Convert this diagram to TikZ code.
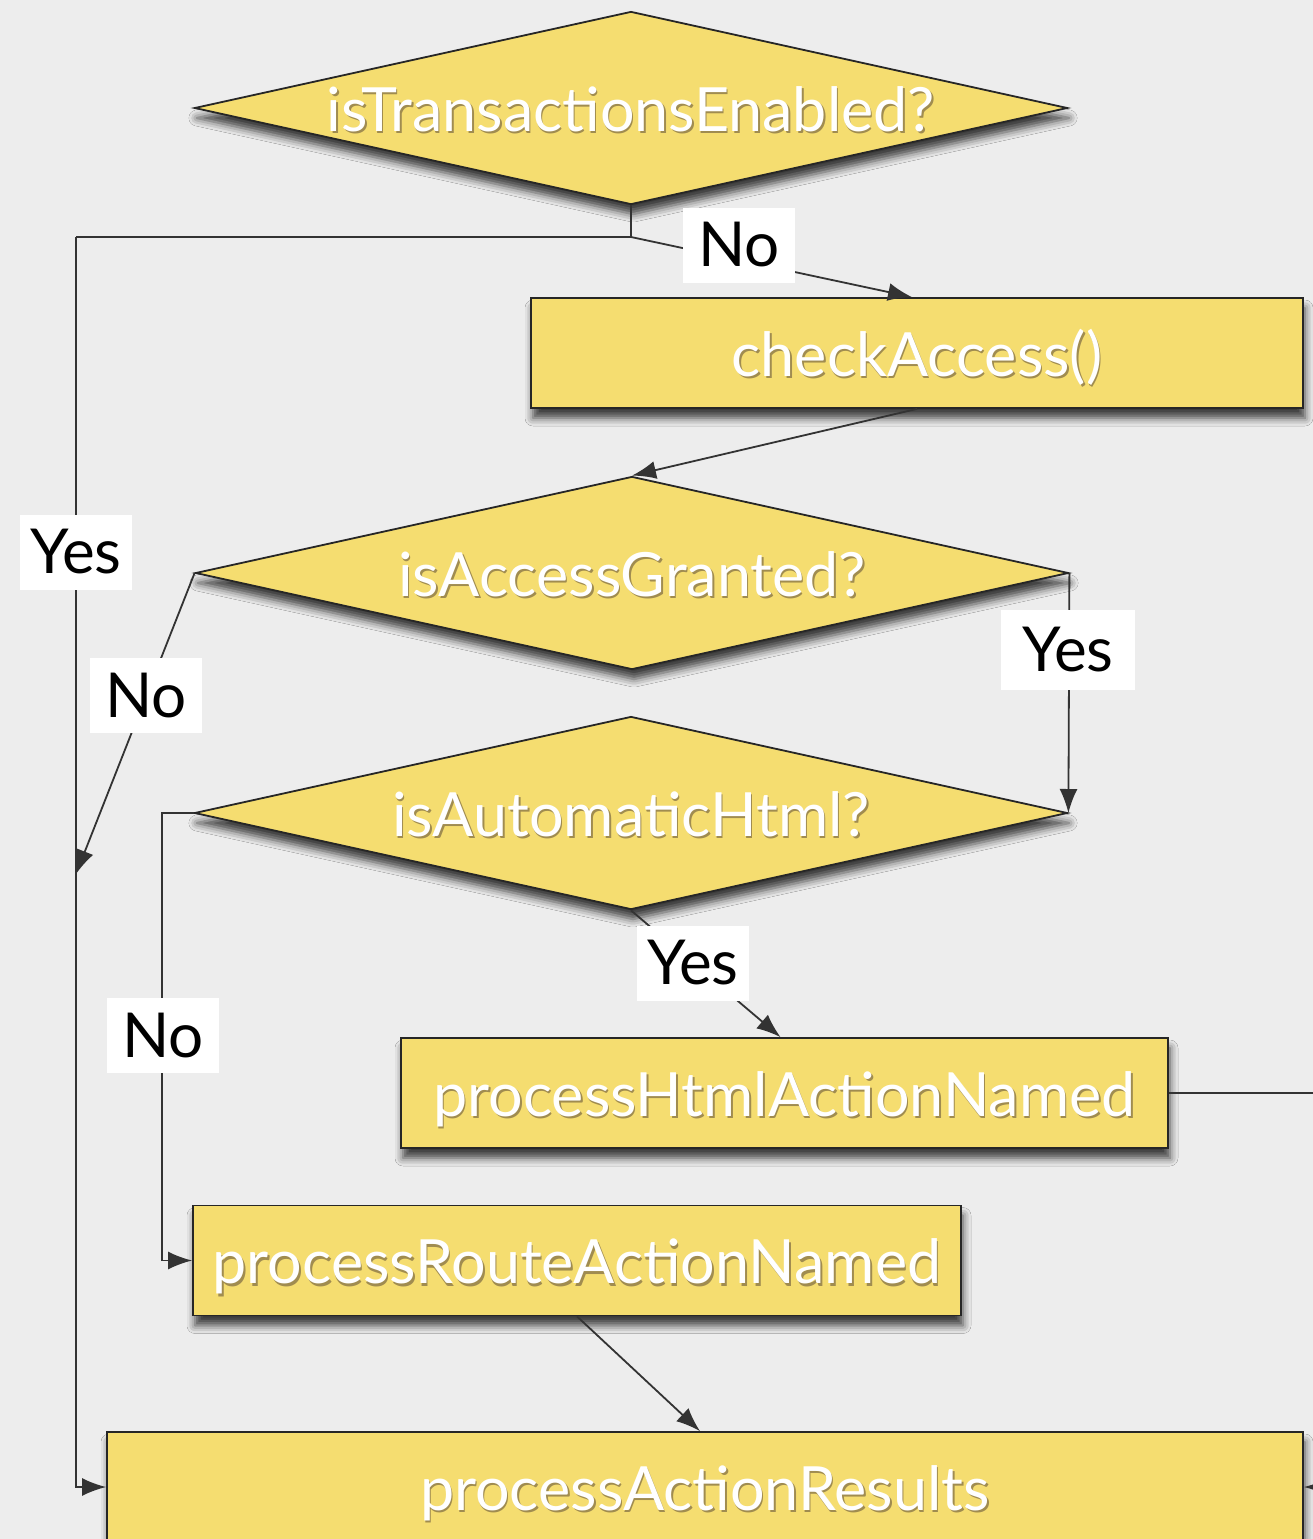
\documentclass[tikz,border=0pt]{standalone}
\usepackage{fontspec}
\setmainfont{Lato}
\usetikzlibrary{shapes.geometric,shadows,shadows.blur,arrows.meta}
\definecolor{bgc}{RGB}{237,237,237}
\definecolor{boxy}{RGB}{245,221,112}
\definecolor{txsh}{RGB}{160,140,80}
\newcommand\wtext[1]{\rlap{\kern1.5pt\raisebox{-2.5pt}{\textcolor{txsh}{#1}}}\textcolor{white}{#1}}
\tikzset{
  flow/.style={draw=black!85, line width=1.8pt, fill=boxy, inner sep=0pt,
     blur shadow={shadow xshift=2pt, shadow yshift=-10pt, shadow blur radius=8pt, shadow opacity=75},
     font=\fontsize{61}{66}\selectfont, text height=46pt, text depth=0pt},
  procbox/.style={flow, rectangle, minimum height=110pt},
  decide/.style={flow, diamond, aspect=4.52, minimum width=873pt, minimum height=193pt},
  lbl/.style={fill=white, inner sep=0pt, minimum width=112pt, minimum height=75pt,
     font=\fontsize{62}{68}\selectfont, text=black},
  conn/.style={line width=1.8pt, draw=black!80},
  arr/.style={conn, -{Latex[length=24pt,width=18pt]}}
}
\begin{document}
\begin{tikzpicture}[x=1pt,y=-1pt]
\useasboundingbox (0,0) rectangle (1313,1539);
\clip (0,0) rectangle (1313,1539);
\fill[bgc] (0,0) rectangle (1313,1539);

% nodes
\node[decide] (d1) at (631,108) {\wtext{isTransactionsEnabled?}};
\node[procbox, minimum width=772pt] (ca) at (917,353) {\wtext{checkAccess()}};
\node[decide] (d2) at (632,573) {\wtext{isAccessGranted?}};
\node[decide] (d3) at (631,813) {\wtext{isAutomaticHtml?}};
\node[procbox, minimum width=767pt] (ph) at (784.5,1093) {\wtext{processHtmlActionNamed}};
\node[procbox, minimum width=768pt] (pr) at (577,1260.5) {\wtext{processRouteActionNamed}};
\node[procbox, minimum width=1196pt] (pa) at (705,1487) {\wtext{processActionResults}};

% helper coordinates
\coordinate (j1) at (631,237);
\coordinate (jL) at (76,237);
\coordinate (m1) at (76,874);
\coordinate (rOff) at (1350,1093);

% connectors
\draw[conn] (d1.south) -- (j1) -- (jL);
\draw[arr] (jL) |- (pa.west);
\draw[arr] (j1) -- ([xshift=-5pt]ca.north);
\draw[arr] (ca.south) -- (d2.north);
\draw[arr] (d2.west) -- (m1);
\draw[arr] (d2.east) -- (d3.east);
\draw[arr] (d3.west) -- ++(-32,0) |- (pr.west);
\draw[arr] (d3.south) -- ([xshift=-4pt]ph.north);
\draw[arr] (ph.east) -- (rOff) |- (pa.east);
\draw[arr] (pr.south) -- ([xshift=-5pt]pa.north);

% labels
\node[lbl] (lNo1) at (739,245) {No};
\node[lbl] (lYes1) at (76,552) {Yes};
\node[lbl] (lNo2) at (146,695) {No};
\node[lbl, minimum width=134pt, minimum height=80pt] (lYes2) at (1068,650) {Yes};
\node[lbl] (lYes3) at (693,963) {Yes};
\node[lbl] (lNo3) at (163,1035) {No};
\end{tikzpicture}
\end{document}
